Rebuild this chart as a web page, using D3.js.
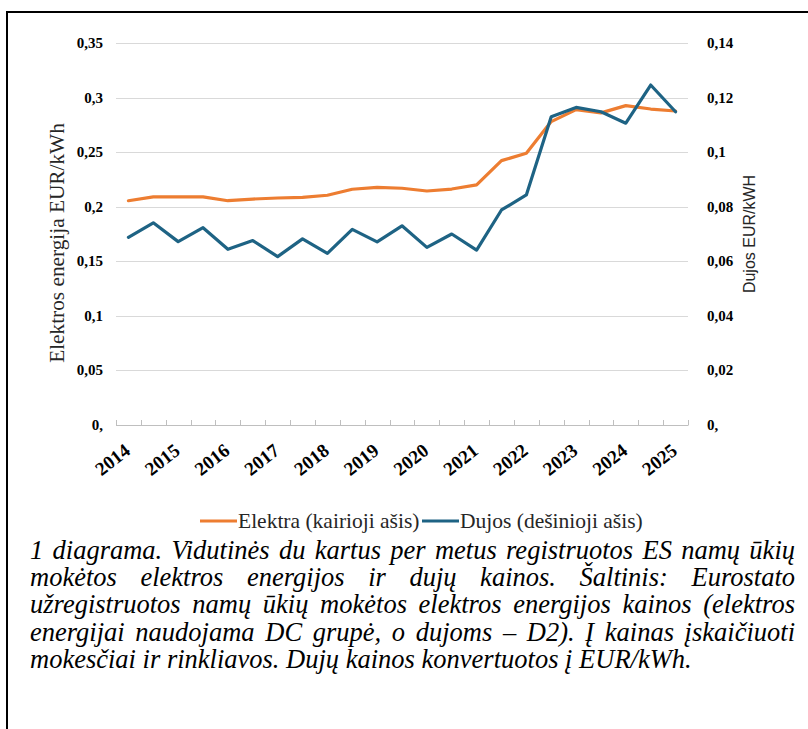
<!DOCTYPE html>
<html><head><meta charset="utf-8">
<script src="https://cdn.jsdelivr.net/npm/d3@7"></script>
<style>
html,body{margin:0;padding:0;background:#fff;}
svg{display:block;}
.serif{font-family:"Liberation Serif","Times New Roman",Tinos,"DejaVu Serif",serif;}
.sans{font-family:"Liberation Sans",Arial,Arimo,sans-serif;}
</style></head>
<body>
<svg id="c" width="808" height="729"></svg>
<script>
// ---- data ----
const categories = ["2014 S1","2014 S2","2015 S1","2015 S2","2016 S1","2016 S2","2017 S1","2017 S2",
  "2018 S1","2018 S2","2019 S1","2019 S2","2020 S1","2020 S2","2021 S1","2021 S2",
  "2022 S1","2022 S2","2023 S1","2023 S2","2024 S1","2024 S2","2025 S1"];
const yearLabels = ["2014","2015","2016","2017","2018","2019","2020","2021","2022","2023","2024","2025"];
const elektra = [0.2055,0.209,0.209,0.209,0.2055,0.207,0.208,0.2086,0.2105,0.216,0.2178,0.2169,
  0.2144,0.2162,0.220,0.2422,0.249,0.278,0.289,0.286,0.2926,0.2895,0.2877];
const dujos = [0.0688,0.0741,0.0672,0.0723,0.0644,0.0676,0.0617,0.0682,0.0629,0.0717,0.0671,0.0730,
  0.0651,0.0700,0.0641,0.0788,0.0843,0.1130,0.1164,0.1148,0.1106,0.1246,0.1148];
const leftTicks = [0,0.05,0.1,0.15,0.2,0.25,0.3,0.35];
const leftTickLabels = ["0,","0,05","0,1","0,15","0,2","0,25","0,3","0,35"];
const rightTicks = [0,0.02,0.04,0.06,0.08,0.1,0.12,0.14];
const rightTickLabels = ["0,","0,02","0,04","0,06","0,08","0,1","0,12","0,14"];
const leftTitle = "Elektros energija EUR/kWh";
const rightTitle = "Dujos EUR/kWH";
const legendLabels = ["Elektra (kairioji ašis)","Dujos (dešinioji ašis)"];
const captionLines = [
  "1 diagrama. Vidutinės du kartus per metus registruotos ES namų ūkių",
  "mokėtos elektros energijos ir dujų kainos. Šaltinis: Eurostato",
  "užregistruotos namų ūkių mokėtos elektros energijos kainos (elektros",
  "energijai naudojama DC grupė, o dujoms – D2). Į kainas įskaičiuoti",
  "mokesčiai ir rinkliavos. Dujų kainos konvertuotos į EUR/kWh."
];
const colors = {elektra:"#ED7D31", dujos:"#1E6384"};

// ---- layout ----
const svg = d3.select("#c");
const X0 = 116, X1 = 688, Y0 = 425, YT = 43;
const x = d3.scaleBand().domain(categories).range([X0, X1]).padding(0);
const cx = d => x(d) + x.bandwidth()/2;
const yL = d3.scaleLinear().domain([0,0.35]).range([Y0, YT]);
const yR = d3.scaleLinear().domain([0,0.14]).range([Y0, YT]);

// border
svg.append("path").attr("d","M7,729 V12 H808").attr("fill","none").attr("stroke","#000").attr("stroke-width",2);

// gridlines
svg.append("g").selectAll("line").data(leftTicks.slice(1)).join("line")
  .attr("x1",X0).attr("x2",X1).attr("y1",d=>Math.round(yL(d))+0.5).attr("y2",d=>Math.round(yL(d))+0.5)
  .attr("stroke","#d9d9d9").attr("stroke-width",1);

// x axis
const xAxis = svg.append("g").attr("transform",`translate(0,${Y0})`);
xAxis.append("line").attr("x1",X0).attr("x2",X1).attr("y1",0.5).attr("y2",0.5).attr("stroke","#bfbfbf");
const bounds = categories.map(c=>x(c)).concat([X1]);
xAxis.selectAll("line.t").data(bounds).join("line").attr("class","t")
  .attr("x1",d=>Math.round(d)+0.5).attr("x2",d=>Math.round(d)+0.5).attr("y1",-5).attr("y2",0.5)
  .attr("stroke","#bfbfbf");
const labelCats = categories.filter((c,i)=>i%2===0);
xAxis.selectAll("text").data(labelCats).join("text").attr("class","serif")
  .attr("transform",d=>`translate(${cx(d)+3},${28}) rotate(-38)`)
  .attr("text-anchor","end")
  .attr("font-weight","bold").attr("font-size",19).attr("fill","#000")
  .text((d,i)=>yearLabels[i]);

// left tick labels
svg.append("g").selectAll("text").data(leftTicks).join("text").attr("class","serif")
  .attr("x",103).attr("y",d=>yL(d)+5).attr("text-anchor","end")
  .attr("font-weight","bold").attr("font-size",15).attr("fill","#000")
  .text((d,i)=>leftTickLabels[i]);
// right tick labels
svg.append("g").selectAll("text").data(rightTicks).join("text").attr("class","serif")
  .attr("x",707).attr("y",d=>yR(d)+5).attr("text-anchor","start")
  .attr("font-weight","bold").attr("font-size",15).attr("fill","#000")
  .text((d,i)=>rightTickLabels[i]);

// axis titles
svg.append("text").attr("class","serif").attr("transform","translate(64,243) rotate(-90)").attr("text-anchor","middle")
  .attr("font-size",21.3).attr("fill","#262626").text(leftTitle);
svg.append("text").attr("class","sans").attr("transform","translate(755,234) rotate(-90)").attr("text-anchor","middle")
  .attr("font-size",16).attr("fill","#262626").text(rightTitle);

// lines
const lineL = d3.line().x((d,i)=>cx(categories[i])).y(d=>yL(d));
const lineR = d3.line().x((d,i)=>cx(categories[i])).y(d=>yR(d));
svg.append("path").attr("d",lineL(elektra)).attr("fill","none").attr("stroke",colors.elektra)
  .attr("stroke-width",3.2).attr("stroke-linejoin","round").attr("stroke-linecap","round");
svg.append("path").attr("d",lineR(dujos)).attr("fill","none").attr("stroke",colors.dujos)
  .attr("stroke-width",3.2).attr("stroke-linejoin","round").attr("stroke-linecap","round");

// legend
const lg = svg.append("g");
const items = [{x:200,c:colors.elektra,t:legendLabels[0]},{x:422,c:colors.dujos,t:legendLabels[1]}];
items.forEach(it=>{
  lg.append("line").attr("x1",it.x).attr("x2",it.x+37).attr("y1",521).attr("y2",521)
    .attr("stroke",it.c).attr("stroke-width",3.2);
  lg.append("text").attr("class","serif").attr("x",it.x+38).attr("y",527.5).attr("font-size",21.5)
    .attr("fill","#262626").text(it.t);
});

// caption (justified)
const capG = svg.append("g");
const CX0 = 30, CX1 = 795;
captionLines.forEach((ln,i)=>{
  const t = capG.append("text").attr("class","serif").attr("x",CX0).attr("y",559+i*27.2)
    .attr("font-style","italic").attr("font-size",26.5).attr("fill","#000")
    .text(ln);
  if(i < captionLines.length-1){
    const L = t.node().getComputedTextLength();
    const n = (ln.match(/ /g)||[]).length;
    t.attr("word-spacing",(CX1-CX0-L)/n);
  }
});
</script>
</body></html>
